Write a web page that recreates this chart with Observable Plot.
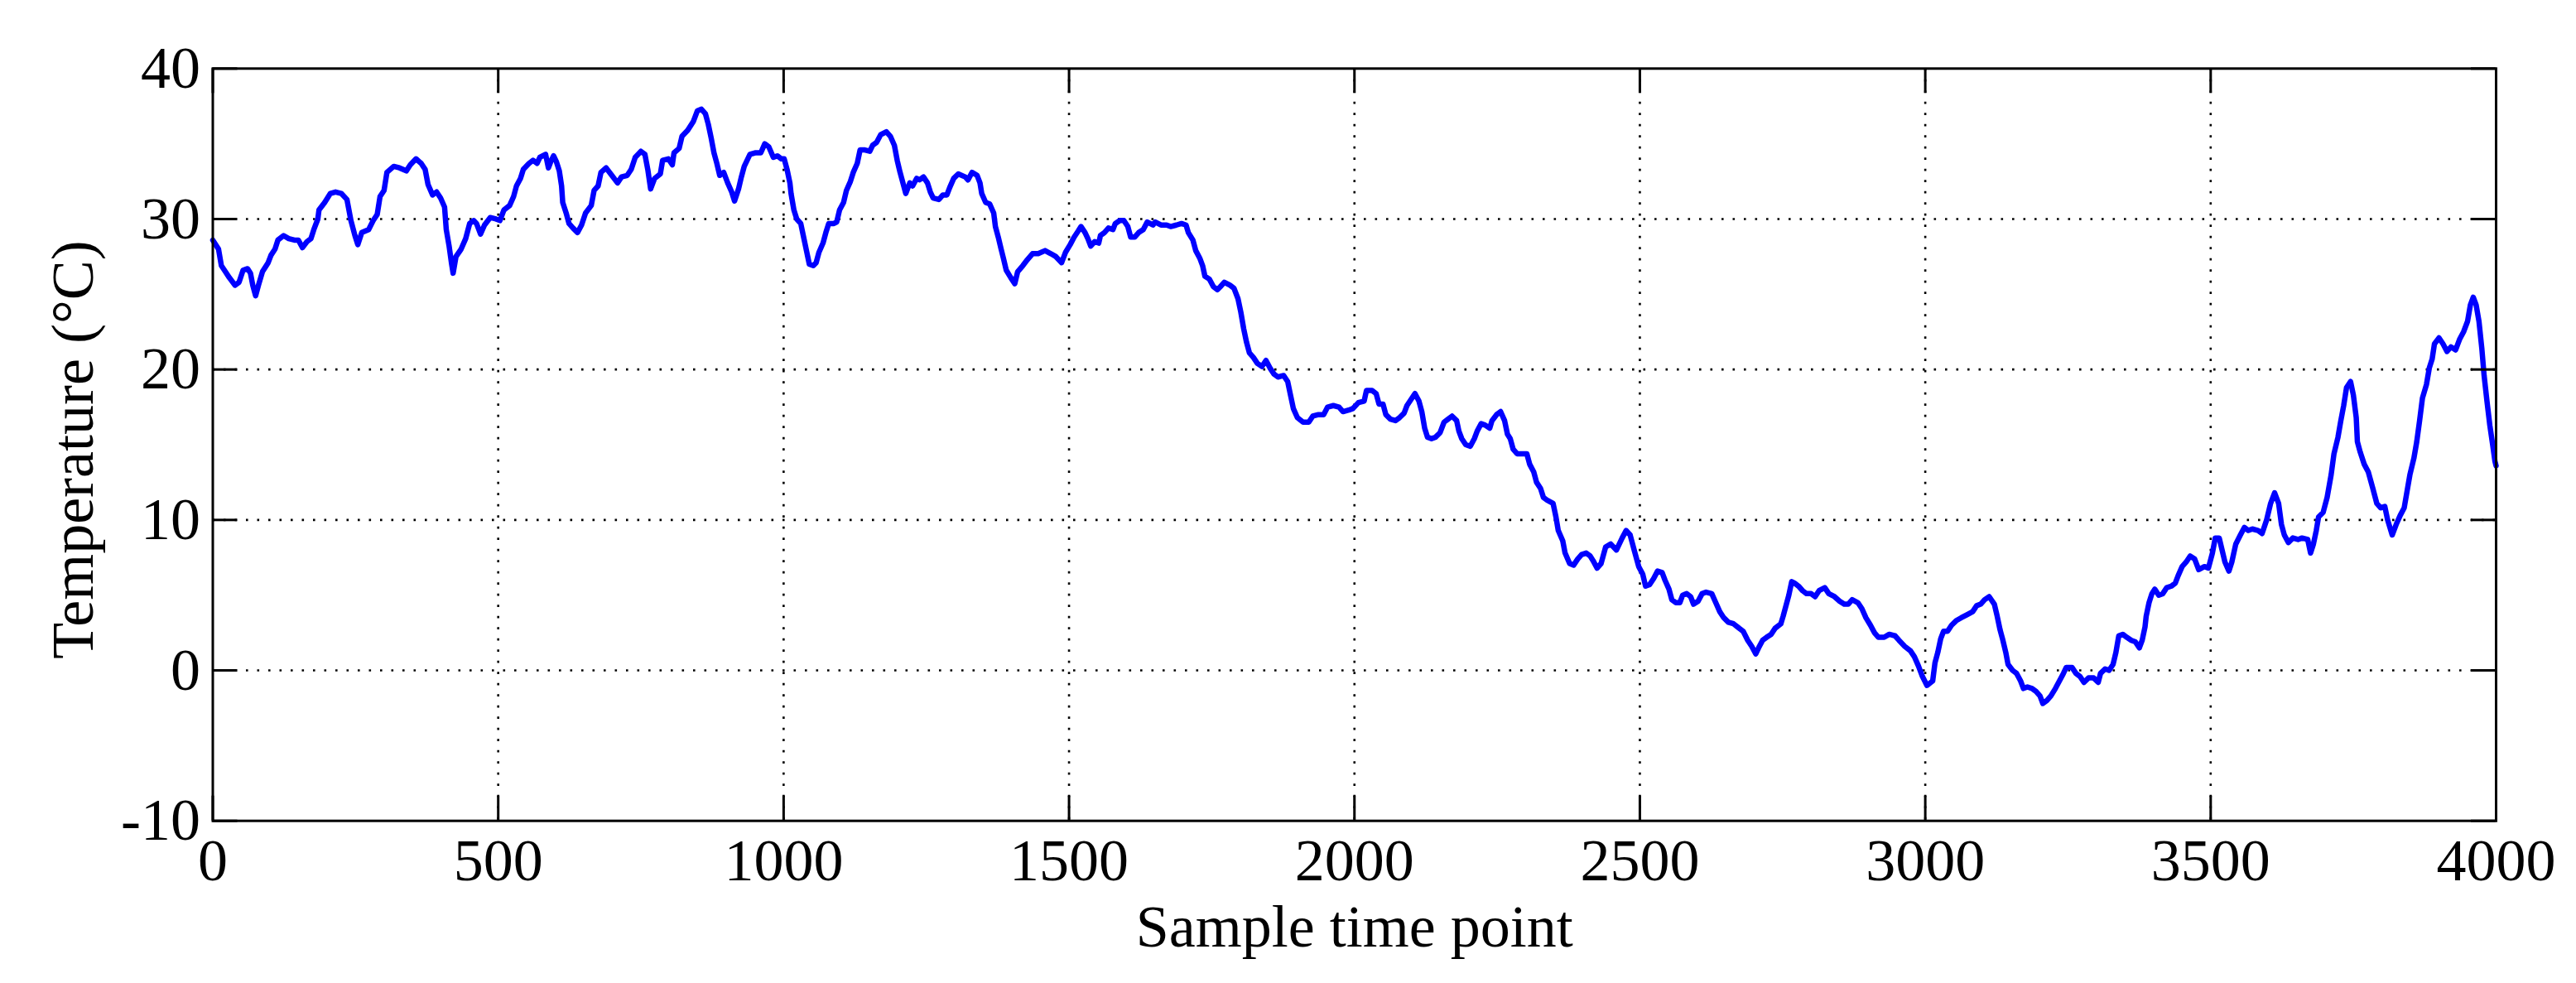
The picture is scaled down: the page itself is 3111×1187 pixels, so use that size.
<!DOCTYPE html>
<html>
<head>
<meta charset="utf-8">
<script src="https://cdn.jsdelivr.net/npm/d3@7"></script>
<script src="https://cdn.jsdelivr.net/npm/@observablehq/plot@0.6"></script>
<style>
  html, body { margin: 0; padding: 0; background: #fff; }
</style>
</head>
<body>
<div id="chart"></div>
<script>
// Sample time points (x) and temperature values (°C)
const samples = [
  0,10,15,22,29,39,46,53,61,66,70,75,80,87,97,102,109,114,124,133,143,150,157,165,172,177,184,186,196,206,215,225,235,242,249,254,261,273,281,288,293,300,305,317,327,339,346,356,365,372,377,385,392,399,406,409,414,418,421,426,435,443,450,457,462,469,476,486,496,
  503,510,520,527,532,539,544,554,561,568,573,583,588,593,597,602,607,611,613,619,624,631,639,646,653,663,668,675,680,689,699,709,716,726,733,740,750,757,762,767,774,784,788,798,805,808,817,822,832,842,849,856,863,868,873,878,883,888,895,902,909,914,921,926,931,941,950,960,967,974,982,989,996,
  1001,1006,1011,1013,1018,1023,1030,1035,1040,1045,1052,1057,1062,1069,1074,1079,1088,1093,1098,1105,1110,1117,1122,1129,1134,1141,1151,1156,1163,1170,1180,1187,1194,1199,1204,1209,1214,1221,1226,1233,1238,1245,1252,1257,1262,1272,1279,1286,1291,1298,1306,1318,1323,1330,1339,1344,1347,1354,1361,1368,1371,1376,1381,1385,1390,1398,1405,1410,1419,1427,1436,1446,1458,1468,1477,1487,1494,
  1502,1509,1516,1521,1528,1533,1538,1545,1552,1555,1562,1569,1577,1581,1589,1596,1603,1608,1615,1622,1630,1637,1647,1651,1661,1671,1678,1688,1697,1705,1709,1717,1722,1729,1734,1738,1746,1753,1760,1765,1772,1782,1789,1796,1801,1806,1811,1816,1823,1830,1838,1845,1852,1859,1866,1876,1883,1888,1893,1900,1910,1920,1927,1937,1946,1953,1963,1973,1980,1990,1997,
  2007,2017,2021,2031,2038,2043,2050,2055,2063,2072,2079,2087,2092,2099,2106,2113,2118,2123,2128,2135,2142,2150,2157,2164,2171,2179,2183,2188,2195,2203,2210,2215,2222,2229,2237,2241,2249,2256,2263,2268,2273,2278,2285,2295,2302,2307,2314,2319,2326,2331,2338,2348,2353,2357,2365,2369,2377,2384,2391,2398,2406,2413,2418,2425,2432,2440,2449,2459,2464,2469,2476,2483,2490,
  2498,2505,2510,2517,2524,2531,2539,2544,2551,2556,2563,2570,2575,2582,2589,2594,2602,2609,2616,2626,2633,2640,2647,2655,2664,2674,2681,2689,2696,2703,2708,2715,2722,2730,2737,2747,2751,2756,2761,2766,2771,2778,2785,2792,2800,2807,2814,2824,2831,2841,2850,2858,2865,2872,2882,2889,2896,2904,2911,2918,2928,2937,2947,2954,2964,2974,2981,2988,2995,3003,
  3013,3017,3022,3027,3032,3039,3046,3054,3063,3073,3083,3090,3097,3104,3112,3121,3126,3131,3136,3141,3145,3153,3160,3167,3172,3179,3187,3194,3201,3206,3213,3220,3228,3235,3242,3247,3257,3264,3271,3278,3286,3295,3303,3307,3315,3322,3329,3334,3339,3346,3353,3361,3368,3375,3380,3385,3387,3392,3397,3402,3409,3416,3423,3431,3438,3443,3450,3457,3464,3472,3479,3489,3496,3503,3508,
  3515,3520,3525,3532,3537,3544,3552,3559,3566,3573,3583,3590,3598,3605,3612,3619,3624,3629,3636,3644,3653,3660,3670,3675,3680,3685,3689,3697,3704,3711,3716,3723,3728,3733,3738,3745,3750,3755,3757,3762,3769,3776,3784,3791,3798,3805,3810,3818,3825,3832,3839,3844,3849,3856,3861,3866,3871,3878,3883,3888,3892,3900,3907,3914,3921,3929,3936,3943,3950,3955,3960,3965,3970,3975,3979,3984,3989,3994,3998,4000
];
const temperatures = [
  28.6,28.0,26.9,26.5,26.1,25.6,25.8,26.6,26.7,26.4,25.6,24.9,25.6,26.5,27.1,27.6,28.0,28.6,28.9,28.7,28.6,28.6,28.1,28.5,28.7,29.3,30.0,30.6,31.1,31.7,31.8,31.7,31.3,29.9,28.9,28.3,29.1,29.3,29.9,30.3,31.5,31.9,33.1,33.5,33.4,33.2,33.6,34.0,33.7,33.3,32.3,31.6,31.8,31.4,30.8,29.3,28.2,27.1,26.4,27.5,28.0,28.7,29.7,29.9,29.7,29.0,29.6,30.1,30.0,
  29.9,30.6,30.9,31.5,32.2,32.7,33.3,33.7,33.9,33.7,34.1,34.3,33.4,33.9,34.2,33.8,33.2,32.2,31.1,30.4,29.7,29.4,29.1,29.6,30.4,30.9,31.9,32.2,33.1,33.4,32.9,32.4,32.8,32.9,33.3,34.1,34.5,34.3,33.3,32.0,32.7,33.0,33.9,34.0,33.6,34.4,34.7,35.5,35.9,36.5,37.2,37.3,37.0,36.3,35.4,34.4,33.7,32.9,33.1,32.4,31.8,31.2,32.0,32.8,33.5,34.3,34.4,34.4,35.0,34.8,34.1,34.2,34.0,
  34.0,33.3,32.4,31.7,30.6,30.0,29.7,28.8,27.9,27.0,26.9,27.1,27.8,28.4,29.1,29.7,29.7,29.8,30.6,31.1,31.9,32.5,33.1,33.7,34.6,34.6,34.5,34.9,35.1,35.6,35.8,35.5,34.9,33.9,33.1,32.4,31.7,32.4,32.2,32.7,32.6,32.8,32.4,31.8,31.4,31.3,31.6,31.6,32.1,32.7,33.0,32.8,32.6,33.1,32.9,32.4,31.7,31.1,31.0,30.4,29.5,28.8,28.0,27.4,26.6,26.1,25.7,26.5,26.9,27.3,27.7,27.7,27.9,27.7,27.5,27.1,27.8,
  28.3,28.8,29.2,29.5,29.1,28.7,28.2,28.5,28.4,28.9,29.1,29.4,29.3,29.7,29.9,29.9,29.5,28.8,28.8,29.1,29.3,29.8,29.6,29.8,29.6,29.6,29.5,29.6,29.7,29.6,29.1,28.6,27.9,27.4,26.9,26.2,26.0,25.5,25.3,25.5,25.8,25.6,25.4,24.7,23.8,22.7,21.8,21.1,20.8,20.4,20.2,20.6,20.1,19.7,19.5,19.6,19.2,18.3,17.4,16.8,16.5,16.5,16.9,17.0,17.0,17.5,17.6,17.5,17.2,17.3,17.4,
  17.8,17.9,18.6,18.6,18.4,17.7,17.7,17.0,16.7,16.6,16.8,17.1,17.6,18.0,18.4,17.9,17.2,16.1,15.5,15.4,15.5,15.8,16.5,16.7,16.9,16.6,15.9,15.4,15.0,14.9,15.4,15.9,16.4,16.3,16.1,16.6,17.0,17.2,16.6,15.7,15.4,14.7,14.4,14.4,14.4,13.7,13.2,12.5,12.1,11.5,11.3,11.1,10.2,9.3,8.6,7.8,7.1,7.0,7.4,7.7,7.8,7.6,7.3,6.8,7.1,8.2,8.4,8.0,8.4,8.8,9.3,9.0,8.0,
  6.9,6.4,5.6,5.7,6.1,6.6,6.5,6.0,5.4,4.7,4.5,4.5,5.0,5.1,4.9,4.4,4.6,5.1,5.2,5.1,4.5,3.9,3.5,3.2,3.1,2.8,2.6,2.0,1.6,1.1,1.5,2.0,2.2,2.4,2.8,3.1,3.6,4.3,5.0,5.9,5.8,5.6,5.3,5.1,5.1,4.9,5.3,5.5,5.1,4.9,4.6,4.4,4.4,4.7,4.5,4.1,3.5,3.0,2.5,2.2,2.2,2.4,2.3,2.0,1.6,1.3,0.9,0.3,-0.4,-1.0,
  -0.7,0.5,1.2,2.1,2.6,2.6,3.0,3.3,3.5,3.7,3.9,4.3,4.4,4.7,4.9,4.4,3.6,2.7,2.0,1.2,0.4,0.0,-0.2,-0.7,-1.2,-1.1,-1.2,-1.4,-1.7,-2.2,-2.0,-1.7,-1.2,-0.7,-0.2,0.2,0.2,-0.2,-0.4,-0.8,-0.5,-0.5,-0.8,-0.2,0.1,0.0,0.4,1.2,2.3,2.4,2.2,2.0,1.9,1.5,2.0,2.9,3.6,4.5,5.1,5.4,5.0,5.1,5.5,5.6,5.8,6.3,6.9,7.2,7.6,7.4,6.7,6.9,6.8,7.8,8.8,
  8.8,8.0,7.2,6.6,7.2,8.4,9.0,9.5,9.3,9.4,9.3,9.1,10.0,11.1,11.8,11.1,9.7,9.0,8.5,8.8,8.7,8.8,8.7,7.8,8.4,9.3,10.2,10.5,11.5,13.0,14.4,15.5,16.6,17.6,18.8,19.2,18.3,16.8,15.2,14.5,13.7,13.2,12.1,11.1,10.8,10.9,10.0,9.0,9.7,10.3,10.8,11.9,13.0,14.1,15.2,16.6,18.1,19.0,20.1,20.7,21.7,22.1,21.7,21.2,21.5,21.3,22.0,22.5,23.2,24.3,24.8,24.3,23.2,21.4,19.6,17.9,16.3,15.0,13.9,13.6
];

const xTicks = [0, 500, 1000, 1500, 2000, 2500, 3000, 3500, 4000];
const yTicks = [-10, 0, 10, 20, 30, 40];
const xGrid = [500, 1000, 1500, 2000, 2500, 3000, 3500];
const yGrid = [0, 10, 20, 30];
const xTitle = "Sample time point";
const yTitle = "Temperature (°C)";

const series = samples.map((t, i) => ({t, v: temperatures[i]}));

const W = 3111, H = 1187;
const mL = 256.5, mR = 97, mT = 82.3, mB = 196.3;
const plotW = W - mL - mR, plotH = H - mT - mB;
const tickLen = 30;
const grid = {stroke: "black", strokeWidth: 2.6, strokeDasharray: "2.6,10.9", strokeOpacity: 1};

const chart = Plot.plot({
  width: W,
  height: H,
  marginLeft: mL,
  marginRight: mR,
  marginTop: mT,
  marginBottom: mB,
  style: {fontFamily: "'Liberation Serif', 'Times New Roman', serif", background: "white", color: "black"},
  x: {domain: [0, 4000], axis: null},
  y: {domain: [-10, 40], axis: null},
  marks: [
    Plot.ruleX(xGrid, {x: d => d, ...grid}),
    Plot.ruleY(yGrid, {y: d => d, ...grid}),
    Plot.line(series, {x: "t", y: "v", stroke: "#0000ff", strokeWidth: 6.5, strokeLinejoin: "round"}),
    Plot.tickX(xTicks, {x: d => d, stroke: "black", strokeWidth: 3, insetTop: plotH - tickLen}),
    Plot.tickX(xTicks, {x: d => d, stroke: "black", strokeWidth: 3, insetBottom: plotH - tickLen}),
    Plot.tickY(yTicks, {y: d => d, stroke: "black", strokeWidth: 3, insetRight: plotW - tickLen}),
    Plot.tickY(yTicks, {y: d => d, stroke: "black", strokeWidth: 3, insetLeft: plotW - tickLen}),
    Plot.frame({stroke: "black", strokeWidth: 3}),
    Plot.text(xTicks, {x: d => d, text: d => String(d), frameAnchor: "bottom", textAnchor: "middle", lineAnchor: "bottom", dy: 72, fontSize: 72, fill: "black"}),
    Plot.text(yTicks, {y: d => d, text: d => String(d), frameAnchor: "left", textAnchor: "end", lineAnchor: "middle", dx: -15, fontSize: 72, fill: "black"}),
    Plot.text([xTitle], {text: d => d, frameAnchor: "bottom", textAnchor: "middle", lineAnchor: "bottom", dy: 152, fontSize: 72, fill: "black"}),
    Plot.text([yTitle], {text: d => d, frameAnchor: "left", textAnchor: "middle", lineAnchor: "bottom", rotate: -90, dx: -145, dy: 6, fontSize: 72, fill: "black"})
  ]
});

document.getElementById("chart").appendChild(chart);
</script>
</body>
</html>
